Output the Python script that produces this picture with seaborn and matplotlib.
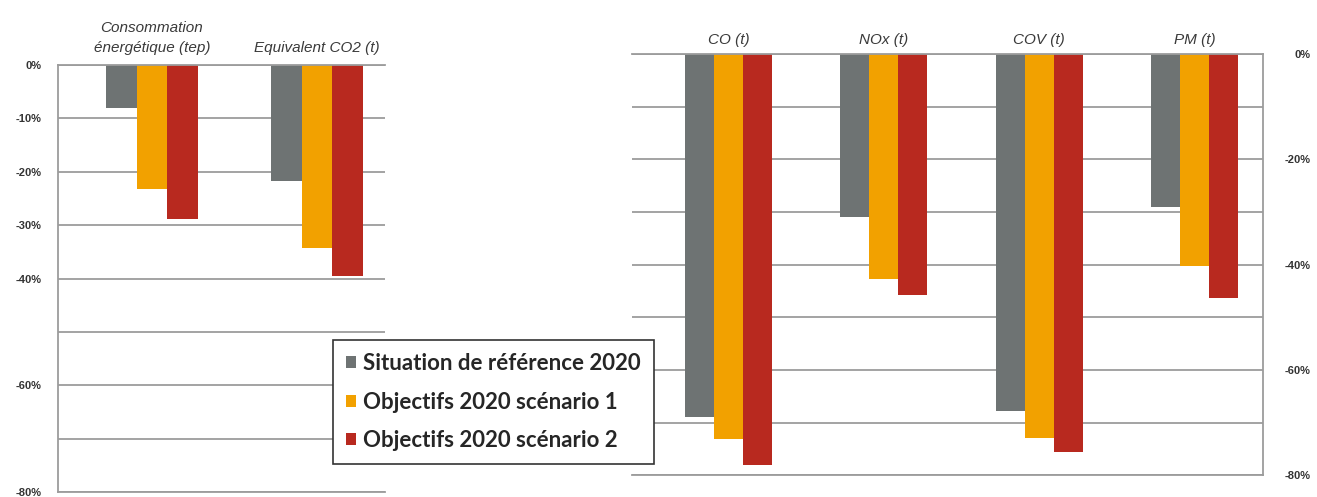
import numpy as np
import pandas as pd
import seaborn as sns
import matplotlib.pyplot as plt
from matplotlib.patches import Patch

series = ["Situation de référence 2020", "Objectifs 2020 scénario 1", "Objectifs 2020 scénario 2"]
colors = ["#6e7373", "#f2a100", "#b8291f"]

# left block: energy / CO2
left_cats = ["Consommation\nénergétique (tep)", "Equivalent CO2 (t)"]
left_ref = [-8.1, -21.7]
left_sc1 = [-23.3, -34.3]
left_sc2 = [-28.9, -39.5]

# right block: pollutants
right_cats = ["CO (t)", "NOx (t)", "COV (t)", "PM (t)"]
right_ref = [-68.9, -31.0, -67.8, -29.0]
right_sc1 = [-73.1, -42.8, -73.0, -40.3]
right_sc2 = [-78.1, -45.7, -75.6, -46.3]

left_ticklabels = ["-80%", "", "-60%", "", "-40%", "-30%", "-20%", "-10%", "0%"]
right_ticklabels = ["-80%", "", "-60%", "", "-40%", "", "-20%", "", "0%"]


def to_long(cats, *vals):
    rows = []
    for s, v in zip(series, vals):
        for c, x in zip(cats, v):
            rows.append({'cat': c, 'serie': s, 'val': x})
    return pd.DataFrame(rows)


df_left = to_long(left_cats, left_ref, left_sc1, left_sc2)
df_right = to_long(right_cats, right_ref, right_sc1, right_sc2)

sns.set_theme(style='white')
plt.rcParams['font.family'] = ['Liberation Sans', 'DejaVu Sans']

fig = plt.figure(figsize=(13.17, 4.97), dpi=100)
ax1 = fig.add_axes([0.044, 0.010, 0.248, 0.859])
ax2 = fig.add_axes([0.480, 0.044, 0.479, 0.847])

grid_col = '#9c9c9c'
for ax, df, xl, pad in [(ax1, df_left, (-0.57, 1.41), 7), (ax2, df_right, (-0.62, 3.44), 5)]:
    sns.barplot(data=df, x='cat', y='val', hue='serie', palette=colors,
                width=0.56, saturation=1, legend=False, linewidth=0,
                edgecolor='none', ax=ax)
    ax.set_xlim(*xl)
    ax.set_ylim(-80, 0)
    ax.set_yticks(np.arange(-80, 1, 10))
    ax.yaxis.grid(True, color=grid_col, lw=1.3)
    ax.set_axisbelow(True)
    ax.set_xlabel('')
    ax.set_ylabel('')
    ax.xaxis.tick_top()
    ax.tick_params(axis='x', length=0, pad=pad)
    for t in ax.get_xticklabels():
        t.set_fontstyle('italic')
        t.set_fontsize(11)
        t.set_color('#3a3a3a')
        t.set_linespacing(1.55)
    for sp in ax.spines.values():
        sp.set_color(grid_col)
        sp.set_linewidth(1.3)

ax1.spines['right'].set_visible(False)
ax1.set_yticklabels(left_ticklabels, fontsize=8, fontweight='bold', color='#333333')
ax1.tick_params(axis='y', length=0, pad=12)

ax2.spines['left'].set_visible(False)
ax2.yaxis.tick_right()
ax2.set_yticklabels(right_ticklabels, fontsize=8, fontweight='bold', color='#333333')
ax2.tick_params(axis='y', length=0, pad=34)
for t in ax2.get_yticklabels():
    t.set_horizontalalignment('right')

handles = [Patch(facecolor=c, edgecolor='none') for c in colors]
leg = fig.legend(handles, series, loc='upper left',
                 bbox_to_anchor=(333 / 1317, 1 - 340 / 497),
                 prop={'family': 'Lato', 'weight': 'bold', 'size': 16},
                 handlelength=0.45, handleheight=0.45, handletextpad=0.3,
                 labelspacing=0.78, borderpad=0.6, borderaxespad=0,
                 fancybox=False, framealpha=1, edgecolor='#333333')
leg.get_frame().set_linewidth(1.2)

fig.savefig('out.png', dpi=100)
